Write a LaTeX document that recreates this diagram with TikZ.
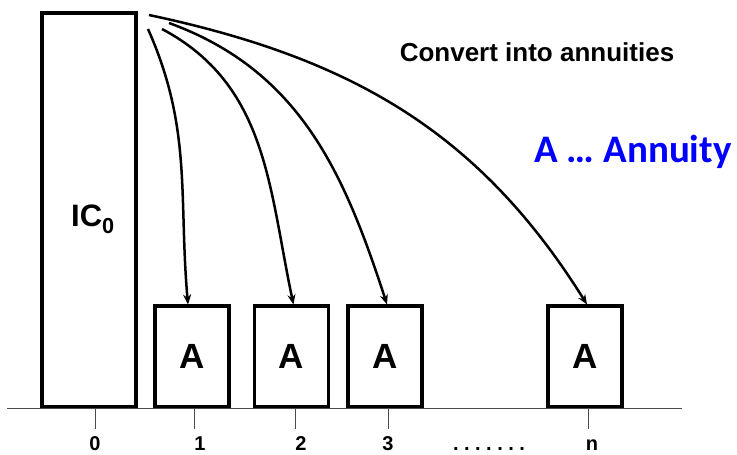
\documentclass[tikz,border=0pt]{standalone}
\usepackage{fontspec}
\setmainfont{Liberation Sans}
\newfontfamily\calibri{Carlito}
\usepackage{tikz}
\usetikzlibrary{arrows.meta}
\definecolor{annblue}{RGB}{0,0,255}
\newcommand{\widthbox}{74pt}
\newcommand{\heightbox}{101pt}
\tikzset{
    common/.style={draw, rectangle, anchor=south, fill=white},
    annuity/.style={common, line width=3.5pt, minimum width=\widthbox, minimum height=\heightbox, font=\fontsize{35}{35}\selectfont\bfseries},
    capital/.style={common, line width=4pt, minimum width=94pt, minimum height=394pt},
    tick/.style={gray!60!black, line width=1pt},
    year/.style={anchor=base, font=\fontsize{20}{20}\selectfont\bfseries},
    flow/.style={-{Stealth[length=10pt, width=8pt]}, line width=2.5pt}
}
\begin{document}
\begin{tikzpicture}[x=1pt, y=1pt]
          \useasboundingbox (0,0) rectangle (737,455);

          \path
              (0,46) coordinate (axis-start)
              +(7,0) coordinate (axis-left)
              +(682,0) coordinate (axis-right)
              +(89,0) node[capital] (ic) {}
              +(192,0) node[annuity] (a-1) {A}
              +(291.5,0) node[annuity] (a-2) {A}
              +(385,0) node[annuity] (a-3) {A}
              +(585,0) node[annuity] (a-n) {A};

          \node[font=\fontsize{31}{31}\selectfont\bfseries] (ic-label) at (93,236) {IC\textsubscript{0}};

          \draw[tick] (axis-left) -- (axis-right);

          % time axis labels
          \foreach \x/\t/\lab in {95/95/0, 194/200/1, 295/301/2, 388/388/3, 588/592/n}{
            \draw[tick] (\x,46) -- (\x,26);
            \node[year] (year-\lab) at (\t,4) {\lab};
          }
          \node[year, inner sep=1pt] (dots) at (489,4) {.\hspace{5.5pt}.\hspace{5.5pt}.\hspace{5.5pt}.\hspace{5.5pt}.\hspace{5.5pt}.\hspace{5.5pt}.};

          \path
              (148,426) coordinate (src-1)
              (162,426) coordinate (src-2)
              (169,432) coordinate (src-3)
              (149,440) coordinate (src-n);

          \draw[flow] (src-1) to[out=-66, in=95] ([xshift=-4pt]a-1.north);
          \draw[flow] (src-2) to[out=-28, in=102] ([xshift=2pt]a-2.north);
          \draw[flow] (src-3) to[out=-20, in=108] ([xshift=2pt]a-3.north);
          \draw[flow] (src-n) to[out=-12, in=122] ([xshift=2pt]a-n.north);

          \node[anchor=base, font=\fontsize{26}{26}\selectfont\bfseries] (convert) at (537,393) {Convert into annuities};
          \node[anchor=base, text=annblue, font=\calibri\fontsize{39}{39}\selectfont\bfseries] (legend) at (633,292) {A … Annuity};
\end{tikzpicture}
\end{document}
